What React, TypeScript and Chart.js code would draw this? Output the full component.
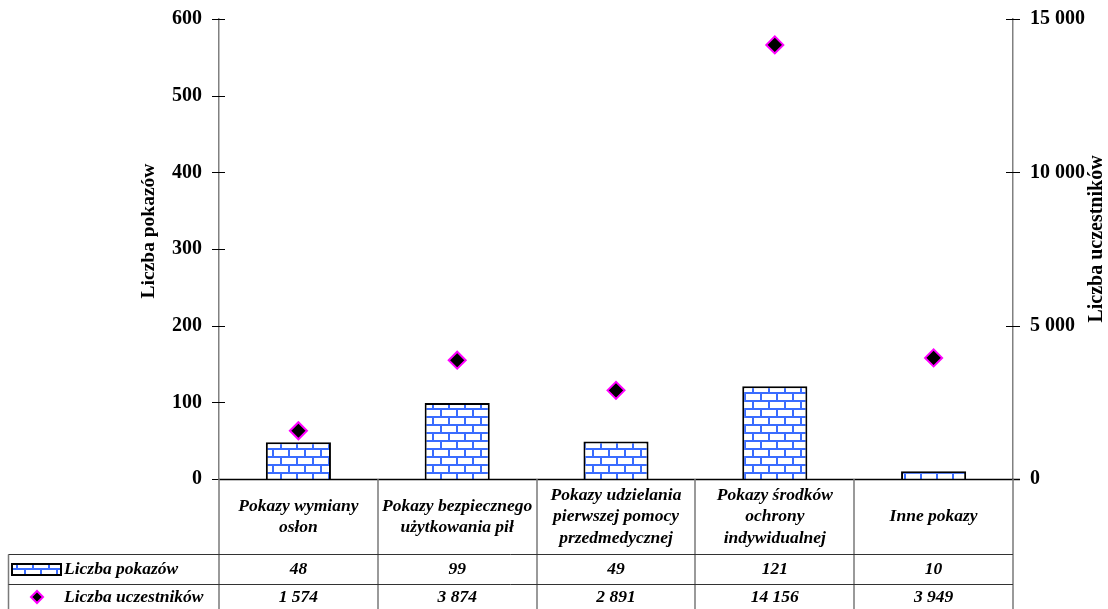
import React, { useEffect, useRef } from 'react';
import { Chart, registerables } from 'chart.js';

Chart.register(...registerables);

const categories: string[][] = [
  ['Pokazy wymiany', 'osłon'],
  ['Pokazy bezpiecznego', 'użytkowania pił'],
  ['Pokazy udzielania', 'pierwszej pomocy', 'przedmedycznej'],
  ['Pokazy środków', 'ochrony', 'indywidualnej'],
  ['Inne pokazy'],
];
const liczbaPokazow = [48, 99, 49, 121, 10];
const liczbaUczestnikow = [1574, 3874, 2891, 14156, 3949];
const seriesNames = ['Liczba pokazów', 'Liczba uczestników'];
const leftAxisTitle = 'Liczba pokazów';
const rightAxisTitle = 'Liczba uczestników';
const leftMax = 600;
const leftStep = 100;
const rightMax = 15000;
const rightStep = 5000;

const FONT = '"Liberation Serif", "Times New Roman", serif';

const fmt = (n: number) => String(n).replace(/\B(?=(\d{3})+(?!\d))/g, ' ');

function makeBrickPattern(ctx: CanvasRenderingContext2D) {
  const c = document.createElement('canvas');
  c.width = 16;
  c.height = 16;
  const g = c.getContext('2d')!;
  g.fillStyle = '#ffffff';
  g.fillRect(0, 0, 16, 16);
  g.strokeStyle = '#3a6cff';
  g.lineWidth = 2;
  g.beginPath();
  g.moveTo(0, 1); g.lineTo(16, 1);
  g.moveTo(0, 9); g.lineTo(16, 9);
  g.moveTo(1, 1); g.lineTo(1, 9);
  g.moveTo(9, 9); g.lineTo(9, 17);
  g.stroke();
  return ctx.createPattern(c, 'repeat')!;
}

function diamond(ctx: CanvasRenderingContext2D, x: number, y: number, r: number) {
  ctx.beginPath();
  ctx.moveTo(x - r, y);
  ctx.lineTo(x, y - r);
  ctx.lineTo(x + r, y);
  ctx.lineTo(x, y + r);
  ctx.closePath();
  ctx.fillStyle = '#000';
  ctx.fill();
  ctx.strokeStyle = '#ff00ff';
  ctx.lineWidth = 2;
  ctx.stroke();
}

export default function App() {
  const ref = useRef<HTMLCanvasElement>(null);

  useEffect(() => {
    const canvas = ref.current!;
    const ctx0 = canvas.getContext('2d')!;
    const pattern = makeBrickPattern(ctx0);

    const tablePlugin = {
      id: 'tablePlugin',
      afterDraw(chart: any) {
        const ctx: CanvasRenderingContext2D = chart.ctx;
        const area = chart.chartArea;
        const ys = chart.scales.y;
        const ys1 = chart.scales.y1;
        const H = chart.height;
        ctx.save();

        // tick marks crossing axes
        ctx.strokeStyle = '#000';
        ctx.lineWidth = 1;
        ctx.beginPath();
        for (let v = 0; v <= leftMax; v += leftStep) {
          const py = Math.round(ys.getPixelForValue(v)) + 0.5;
          ctx.moveTo(area.left - 7, py);
          ctx.lineTo(area.left + 6, py);
        }
        for (let v = 0; v <= rightMax; v += rightStep) {
          const py = Math.round(ys1.getPixelForValue(v)) + 0.5;
          ctx.moveTo(area.right - 7, py);
          ctx.lineTo(area.right + 7, py);
        }
        ctx.stroke();

        // baseline
        const base = Math.round(area.bottom) + 0.5;
        ctx.beginPath();
        ctx.lineWidth = 1.5;
        ctx.moveTo(area.left, base);
        ctx.lineTo(area.right + 7, base);
        ctx.stroke();

        // axis titles
        ctx.fillStyle = '#000';
        ctx.textAlign = 'center';
        ctx.textBaseline = 'middle';
        ctx.save();
        ctx.font = `bold 19.5px ${FONT}`;
        ctx.translate(149, 231);
        ctx.rotate(-Math.PI / 2);
        ctx.fillText(leftAxisTitle, 0, 0);
        ctx.restore();
        ctx.save();
        ctx.font = `bold 20px ${FONT}`;
        ctx.translate(1097, 239);
        ctx.rotate(-Math.PI / 2);
        ctx.fillText(rightAxisTitle, 0, 0);
        ctx.restore();

        // table
        const n = categories.length;
        const w = (area.right - area.left) / n;
        const row1 = 554.5;
        const row2 = 584.5;
        const legendLeft = 8.5;

        // vertical lines
        ctx.strokeStyle = '#7a7a7a';
        ctx.lineWidth = 1.5;
        ctx.beginPath();
        for (let i = 0; i <= n; i++) {
          const px = Math.round(area.left + i * w);
          ctx.moveTo(px, area.bottom);
          ctx.lineTo(px, H);
        }
        ctx.moveTo(legendLeft, row1);
        ctx.lineTo(legendLeft, H);
        ctx.stroke();

        // horizontal lines
        ctx.strokeStyle = '#333';
        ctx.lineWidth = 1;
        ctx.beginPath();
        ctx.moveTo(legendLeft, row1);
        ctx.lineTo(area.right, row1);
        ctx.moveTo(legendLeft, row2);
        ctx.lineTo(area.right, row2);
        ctx.stroke();

        // header texts
        ctx.fillStyle = '#000';
        ctx.font = `italic bold 17.5px ${FONT}`;
        ctx.textAlign = 'center';
        ctx.textBaseline = 'middle';
        const headerMid = (area.bottom + row1) / 2;
        const lh = 21.5;
        categories.forEach((lines, i) => {
          const cx = area.left + (i + 0.5) * w;
          const start = headerMid - ((lines.length - 1) * lh) / 2;
          lines.forEach((t, j) => ctx.fillText(t, cx, start + j * lh));
          ctx.fillText(fmt(liczbaPokazow[i]), cx, (row1 + row2) / 2);
          ctx.fillText(fmt(liczbaUczestnikow[i]), cx, (row2 + H) / 2 + 0.5);
        });

        // legend cells
        ctx.fillStyle = pattern;
        ctx.fillRect(12, 564, 49, 11);
        ctx.strokeStyle = '#000';
        ctx.lineWidth = 2;
        ctx.strokeRect(12, 564, 49, 11);
        diamond(ctx, 37, 597, 6);
        ctx.fillStyle = '#000';
        ctx.textAlign = 'left';
        ctx.fillText(seriesNames[0], 64, (row1 + row2) / 2);
        ctx.fillText(seriesNames[1], 64, (row2 + H) / 2 + 0.5);

        ctx.restore();
      },
    };

    const fitAxis = (width: number) => (s: any) => {
      s.width = width;
      s.paddingTop = 0;
      s.paddingBottom = 0;
    };

    const chart = new Chart(canvas, {
      data: {
        labels: categories.map((c) => c.join(' ')),
        datasets: [
          {
            type: 'line',
            label: seriesNames[1],
            data: liczbaUczestnikow,
            yAxisID: 'y1',
            showLine: false,
            pointStyle: 'rectRot',
            pointRadius: 8.5,
            pointHoverRadius: 8.5,
            pointBackgroundColor: '#000',
            pointBorderColor: '#ff00ff',
            pointBorderWidth: 2,
            order: 0,
          },
          {
            type: 'bar',
            label: seriesNames[0],
            data: liczbaPokazow,
            yAxisID: 'y',
            backgroundColor: pattern,
            borderColor: '#000',
            borderWidth: 2,
            barPercentage: 0.41,
            categoryPercentage: 1,
            order: 1,
          },
        ],
      } as any,
      options: {
        animation: false,
        responsive: false,
        events: [],
        layout: { padding: { top: 19, bottom: 130, left: 0, right: 0 } },
        plugins: { legend: { display: false }, tooltip: { enabled: false } },
        scales: {
          x: { type: 'category', display: false, offset: true },
          y: {
            position: 'left',
            min: 0,
            max: leftMax,
            afterFit: fitAxis(219),
            afterBuildTicks: (s: any) => {
              const t = [];
              for (let v = 0; v <= leftMax; v += leftStep) t.push({ value: v });
              s.ticks = t;
            },
            grid: { display: false, drawTicks: false },
            border: { display: true, color: '#808080', width: 1.5 },
            ticks: {
              padding: 17,
              color: '#000',
              font: { family: FONT, size: 20, weight: 'bold' },
              callback: (v: any) => fmt(Number(v)),
            },
          },
          y1: {
            position: 'right',
            min: 0,
            max: rightMax,
            afterFit: fitAxis(95),
            afterBuildTicks: (s: any) => {
              const t = [];
              for (let v = 0; v <= rightMax; v += rightStep) t.push({ value: v });
              s.ticks = t;
            },
            grid: { display: false, drawTicks: false },
            border: { display: true, color: '#808080', width: 1.5 },
            ticks: {
              padding: 17,
              color: '#000',
              font: { family: FONT, size: 20, weight: 'bold' },
              callback: (v: any) => fmt(Number(v)),
            },
          },
        },
      } as any,
      plugins: [tablePlugin],
    });

    return () => chart.destroy();
  }, []);

  return (
    <div style={{ position: 'fixed', left: 0, top: 0, width: 1108, height: 609, background: '#fff' }}>
      <canvas ref={ref} width={1108} height={609} style={{ display: 'block' }} />
    </div>
  );
}
